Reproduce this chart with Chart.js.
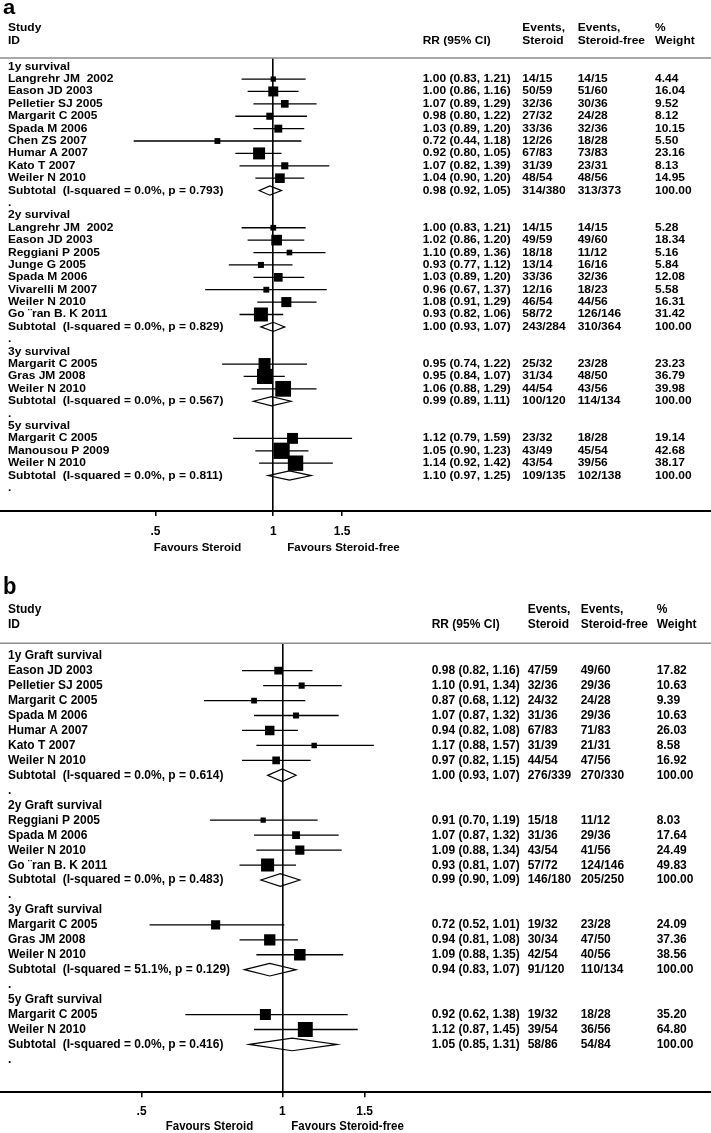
<!DOCTYPE html>
<html>
<head>
<meta charset="utf-8">
<script src="https://cdn.jsdelivr.net/npm/chart.js@4.4.1/dist/chart.umd.min.js"></script>
<style>
  body { margin: 0; background: #fff; }
  .panel { position: relative; width: 711px; }
  #panelA { height: 563px; }
  #panelB { height: 570px; }
</style>
</head>
<body>
<div class="panel" id="panelA"><canvas id="chartA"></canvas></div>
<div class="panel" id="panelB"><canvas id="chartB"></canvas></div>
<script>
// 面板 a：患者生存
const rowsA = [
  '1y survival', 'Langrehr JM  2002', 'Eason JD 2003', 'Pelletier SJ 2005', 'Margarit C 2005',
  'Spada M 2006', 'Chen ZS 2007', 'Humar A 2007', 'Kato T 2007', 'Weiler N 2010',
  'Subtotal  (I-squared = 0.0%, p = 0.793)', '.',
  '2y survival', 'Langrehr JM  2002', 'Eason JD 2003', 'Reggiani P 2005', 'Junge G 2005',
  'Spada M 2006', 'Vivarelli M 2007', 'Weiler N 2010', 'Go \u00a8ran B. K 2011',
  'Subtotal  (I-squared = 0.0%, p = 0.829)', '.',
  '3y survival', 'Margarit C 2005', 'Gras JM 2008', 'Weiler N 2010',
  'Subtotal  (I-squared = 0.0%, p = 0.567)', '.',
  '5y survival', 'Margarit C 2005', 'Manousou P 2009', 'Weiler N 2010',
  'Subtotal  (I-squared = 0.0%, p = 0.811)', '.'
];
const rrA = [null, 1.00, 1.00, 1.07, 0.98, 1.03, 0.72, 0.92, 1.07, 1.04, 0.98, null,
  null, 1.00, 1.02, 1.10, 0.93, 1.03, 0.96, 1.08, 0.93, 1.00, null,
  null, 0.95, 0.95, 1.06, 0.99, null,
  null, 1.12, 1.05, 1.14, 1.10, null];
const loA = [null, 0.83, 0.86, 0.89, 0.80, 0.89, 0.44, 0.80, 0.82, 0.90, 0.92, null,
  null, 0.83, 0.86, 0.89, 0.77, 0.89, 0.67, 0.91, 0.82, 0.93, null,
  null, 0.74, 0.84, 0.88, 0.89, null,
  null, 0.79, 0.90, 0.92, 0.97, null];
const hiA = [null, 1.21, 1.16, 1.29, 1.22, 1.20, 1.18, 1.05, 1.39, 1.20, 1.05, null,
  null, 1.21, 1.20, 1.36, 1.12, 1.20, 1.37, 1.29, 1.06, 1.07, null,
  null, 1.22, 1.07, 1.29, 1.11, null,
  null, 1.59, 1.23, 1.42, 1.25, null];
const evSteroidA = ['', '14/15', '50/59', '32/36', '27/32', '33/36', '12/26', '67/83', '31/39', '48/54', '314/380', '',
  '', '14/15', '49/59', '18/18', '13/14', '33/36', '12/16', '46/54', '58/72', '243/284', '',
  '', '25/32', '31/34', '44/54', '100/120', '',
  '', '23/32', '43/49', '43/54', '109/135', ''];
const evFreeA = ['', '14/15', '51/60', '30/36', '24/28', '32/36', '18/28', '73/83', '23/31', '48/56', '313/373', '',
  '', '14/15', '49/60', '11/12', '16/16', '32/36', '18/23', '44/56', '126/146', '310/364', '',
  '', '23/28', '48/50', '43/56', '114/134', '',
  '', '18/28', '45/54', '39/56', '102/138', ''];
const weightA = [null, 4.44, 16.04, 9.52, 8.12, 10.15, 5.50, 23.16, 8.13, 14.95, 100.00, null,
  null, 5.28, 18.34, 5.16, 5.84, 12.08, 5.58, 16.31, 31.42, 100.00, null,
  null, 23.23, 36.79, 39.98, 100.00, null,
  null, 19.14, 42.68, 38.17, 100.00, null];

// 面板 b：移植物生存
const rowsB = [
  '1y Graft survival', 'Eason JD 2003', 'Pelletier SJ 2005', 'Margarit C 2005', 'Spada M 2006',
  'Humar A 2007', 'Kato T 2007', 'Weiler N 2010',
  'Subtotal  (I-squared = 0.0%, p = 0.614)', '.',
  '2y Graft survival', 'Reggiani P 2005', 'Spada M 2006', 'Weiler N 2010', 'Go \u00a8ran B. K 2011',
  'Subtotal  (I-squared = 0.0%, p = 0.483)', '.',
  '3y Graft survival', 'Margarit C 2005', 'Gras JM 2008', 'Weiler N 2010',
  'Subtotal  (I-squared = 51.1%, p = 0.129)', '.',
  '5y Graft survival', 'Margarit C 2005', 'Weiler N 2010',
  'Subtotal  (I-squared = 0.0%, p = 0.416)', '.'
];
const rrB = [null, 0.98, 1.10, 0.87, 1.07, 0.94, 1.17, 0.97, 1.00, null,
  null, 0.91, 1.07, 1.09, 0.93, 0.99, null,
  null, 0.72, 0.94, 1.09, 0.94, null,
  null, 0.92, 1.12, 1.05, null];
const loB = [null, 0.82, 0.91, 0.68, 0.87, 0.82, 0.88, 0.82, 0.93, null,
  null, 0.70, 0.87, 0.88, 0.81, 0.90, null,
  null, 0.52, 0.81, 0.88, 0.83, null,
  null, 0.62, 0.87, 0.85, null];
const hiB = [null, 1.16, 1.34, 1.12, 1.32, 1.08, 1.57, 1.15, 1.07, null,
  null, 1.19, 1.32, 1.34, 1.07, 1.09, null,
  null, 1.01, 1.08, 1.35, 1.07, null,
  null, 1.38, 1.45, 1.31, null];
const evSteroidB = ['', '47/59', '32/36', '24/32', '31/36', '67/83', '31/39', '44/54', '276/339', '',
  '', '15/18', '31/36', '43/54', '57/72', '146/180', '',
  '', '19/32', '30/34', '42/54', '91/120', '',
  '', '19/32', '39/54', '58/86', ''];
const evFreeB = ['', '49/60', '29/36', '24/28', '29/36', '71/83', '21/31', '47/56', '270/330', '',
  '', '11/12', '29/36', '41/56', '124/146', '205/250', '',
  '', '23/28', '47/50', '40/56', '110/134', '',
  '', '18/28', '36/56', '54/84', ''];
const weightB = [null, 17.82, 10.63, 9.39, 10.63, 26.03, 8.58, 16.92, 100.00, null,
  null, 8.03, 17.64, 24.49, 49.83, 100.00, null,
  null, 24.09, 37.36, 38.56, 100.00, null,
  null, 35.20, 64.80, 100.00, null];

// 坐标轴和表头文字
const xTickValues = [0.5, 1, 1.5];
const xTickLabels = ['.5', '1', '1.5'];
const headLeft = ['Study', 'ID'];
const headCols = [['', 'RR (95% CI)'], ['Events,', 'Steroid'], ['Events,', 'Steroid-free'], ['%', 'Weight']];
const favours = ['Favours Steroid', 'Favours Steroid-free'];

const FONT = '"Liberation Sans", Arial, sans-serif';

function isSubtotal(label) {
  return label.startsWith('Subtotal');
}

// 画文字（可纵向拉伸，原图两块比例不同）
function drawText(ctx, s, x, y, sy, align) {
  ctx.save();
  ctx.translate(x, y);
  ctx.scale(1, sy);
  ctx.textAlign = align || 'left';
  ctx.fillText(s, 0, 0);
  ctx.restore();
}

function makeTextPlugin(d, cfg) {
  return {
    id: 'forestText' + cfg.letter,
    afterDraw(chart) {
      const { ctx, scales: { x, y } } = chart;
      ctx.save();
      ctx.fillStyle = '#000';

      // 面板字母
      ctx.font = 'bold 22px ' + FONT;
      ctx.textBaseline = 'alphabetic';
      drawText(ctx, cfg.letter, 3, cfg.letterY, cfg.sy);

      ctx.font = 'bold 12px ' + FONT;
      ctx.textBaseline = 'middle';
      // 表头
      drawText(ctx, headLeft[0], 8, cfg.head1, cfg.sy);
      drawText(ctx, headLeft[1], 8, cfg.head2, cfg.sy);
      headCols.forEach((h, k) => {
        drawText(ctx, h[0], cfg.cols[k], cfg.head1, cfg.sy);
        drawText(ctx, h[1], cfg.cols[k], cfg.head2, cfg.sy);
      });

      // 灰色分隔线
      ctx.strokeStyle = '#8c8c8c';
      ctx.lineWidth = 1.5;
      ctx.beginPath();
      ctx.moveTo(0, chart.chartArea.top);
      ctx.lineTo(chart.width, chart.chartArea.top);
      ctx.stroke();

      // 每行文字
      d.rows.forEach((label, i) => {
        const py = y.getPixelForValue(i);
        drawText(ctx, label, 8, py, cfg.sy);
        if (d.rr[i] === null) return;
        const ci = `${d.rr[i].toFixed(2)} (${d.lo[i].toFixed(2)}, ${d.hi[i].toFixed(2)})`;
        drawText(ctx, ci, cfg.cols[0], py, cfg.sy);
        drawText(ctx, d.evS[i], cfg.cols[1], py, cfg.sy);
        drawText(ctx, d.evF[i], cfg.cols[2], py, cfg.sy);
        drawText(ctx, d.weight[i].toFixed(2), cfg.cols[3], py, cfg.sy);
      });

      // 合并效应菱形
      ctx.strokeStyle = '#000';
      ctx.lineWidth = 1.2;
      d.rows.forEach((label, i) => {
        if (!isSubtotal(label)) return;
        const py = y.getPixelForValue(i);
        const xl = x.getPixelForValue(d.lo[i]);
        const xm = x.getPixelForValue(d.rr[i]);
        const xr = x.getPixelForValue(d.hi[i]);
        ctx.beginPath();
        ctx.moveTo(xl, py);
        ctx.lineTo(xm, py - cfg.diamondH);
        ctx.lineTo(xr, py);
        ctx.lineTo(xm, py + cfg.diamondH);
        ctx.closePath();
        ctx.stroke();
      });

      // 底部说明
      ctx.font = 'bold 11.5px ' + FONT;
      const ref = x.getPixelForValue(1);
      drawText(ctx, favours[0], ref - cfg.favL, cfg.favY, cfg.sy, 'right');
      drawText(ctx, favours[1], ref + cfg.favR, cfg.favY, cfg.sy, 'left');
      ctx.restore();
    }
  };
}

function buildForest(canvasId, d, cfg) {
  const ciData = [];
  const pointData = [];
  const radii = [];
  d.rows.forEach((label, i) => {
    if (d.rr[i] === null || isSubtotal(label)) return;
    ciData.push({ x: d.lo[i], y: i }, { x: d.hi[i], y: i }, { x: d.rr[i], y: null });
    pointData.push({ x: d.rr[i], y: i });
    // 方块面积与权重成正比
    radii.push(cfg.boxK * Math.sqrt(d.weight[i]) / (2 * Math.SQRT1_2));
  });

  return new Chart(document.getElementById(canvasId), {
    type: 'scatter',
    data: {
      datasets: [
        {
          label: 'RR',
          data: pointData,
          pointStyle: 'rect',
          pointRadius: radii,
          pointBackgroundColor: '#000',
          pointBorderWidth: 0
        },
        {
          label: '95% CI',
          data: ciData,
          showLine: true,
          spanGaps: false,
          borderColor: '#000',
          borderWidth: 1.3,
          pointRadius: 0
        }
      ]
    },
    options: {
      responsive: true,
      maintainAspectRatio: false,
      animation: false,
      layout: { autoPadding: false, padding: { top: cfg.top, left: 0, right: 0, bottom: 0 } },
      plugins: {
        legend: { display: false },
        tooltip: { enabled: false }
      },
      scales: {
        x: {
          type: 'logarithmic',
          min: cfg.xMin,
          max: cfg.xMax,
          border: { display: true, color: '#000', width: 2 },
          grid: {
            color: ctx => (ctx.tick && ctx.tick.value === 1 ? '#000' : 'rgba(0,0,0,0)'),
            lineWidth: 1.6,
            tickLength: 5,
            tickColor: '#000',
            tickWidth: 1.5
          },
          ticks: {
            color: '#000',
            padding: cfg.tickPad,
            font: { family: FONT, size: 12, weight: 'bold' },
            callback: (value, index) => xTickLabels[index]
          },
          afterBuildTicks: axis => {
            axis.ticks = xTickValues.map(v => ({ value: v }));
          },
          afterFit: axis => {
            axis.height = cfg.bottomH;
          }
        },
        y: {
          type: 'linear',
          reverse: true,
          min: cfg.yMin,
          max: cfg.yMax,
          display: false
        }
      }
    },
    plugins: [makeTextPlugin(d, cfg)]
  });
}

buildForest('chartA', {
  rows: rowsA, rr: rrA, lo: loA, hi: hiA, evS: evSteroidA, evF: evFreeA, weight: weightA
}, {
  letter: 'a', letterY: 14, sy: 0.9,
  head1: 27.7, head2: 41.3,
  cols: [422.7, 522.3, 577.7, 655],
  top: 58, bottomH: 52,
  yMin: -0.70, yMax: 35.86,
  xMin: 0.2004, xMax: 13.13,
  tickPad: 8, boxK: 2.49, diamondH: 4.6,
  favY: 548, favL: 32, favR: 14
});

buildForest('chartB', {
  rows: rowsB, rr: rrB, lo: loB, hi: hiB, evS: evSteroidB, evF: evFreeB, weight: weightB
}, {
  letter: 'b', letterY: 31, sy: 1.05,
  head1: 47, head2: 62,
  cols: [431.7, 527.7, 580.7, 656.7],
  top: 80.3, bottomH: 40.7,
  yMin: -0.83, yMax: 29.2,
  xMin: 0.2489, xMax: 8.263,
  tickPad: 7, boxK: 1.85, diamondH: 6.3,
  favY: 563.7, favL: 29, favR: 9
});
</script>
</body>
</html>
